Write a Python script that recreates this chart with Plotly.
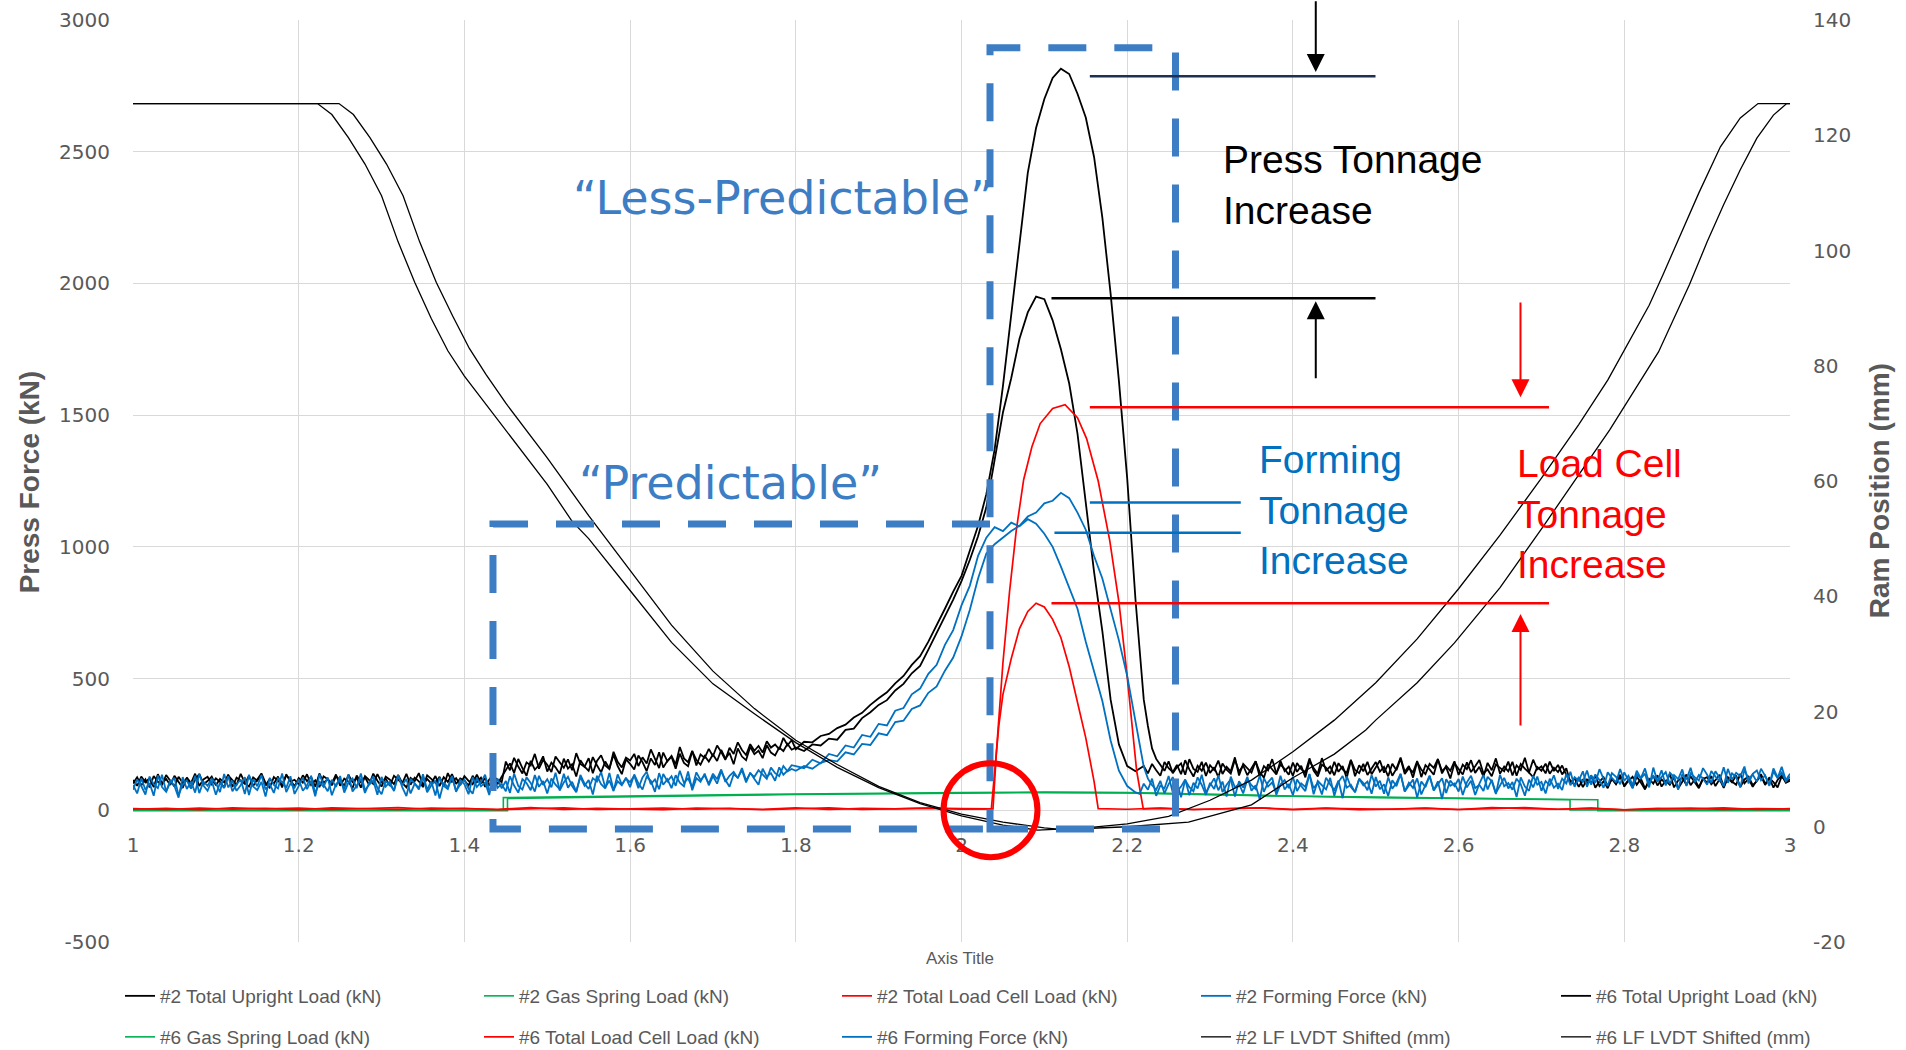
import plotly.graph_objects as go

# ---------------- data -----------------
# sample times (s) of the force channels
T_A = [round(1.0 + 0.005 * i, 3) for i in range(160)]    # 1.000 ... 1.795
T_B = [round(1.80 + 0.01 * i, 2) for i in range(42)]     # 1.80 ... 2.21
T_C = [round(2.215 + 0.005 * i, 3) for i in range(158)]  # 2.215 ... 3.000
TIME = T_A + T_B + T_C

forming_2 = [
    # 1.000 - 1.795
    96, 64, 121, 78, 103, 55, 132, 88, 70, 115, 92, 48, 126, 81, 109, 67, 138, 94, 74, 112,
    59, 104, 85, 129, 72, 98, 117, 62, 135, 90, 77, 108, 52, 123, 96, 83, 140, 69, 101, 86,
    118, 74, 95, 131, 63, 107, 89, 125, 57, 99, 114, 80, 136, 71, 93, 120, 66, 104, 128, 84,
    61, 110, 97, 76, 133, 88, 54, 119, 102, 79, 127, 68, 94, 113, 45, 105, 87, 130, 73, 98,
    116, 82, 63, 124, 91, 106, 58, 137, 85, 100, 72, 129, 94, 67, 118, 103, 76, 134, 89, 111,
    64, 121, 97, 80, 139, 86, 108, 71, 126, 93, 115, 60, 131, 99, 83, 142, 77, 110, 95, 124,
    88, 136, 102, 79, 128, 112, 70, 141, 97, 118, 84, 133, 105, 91, 147, 76, 122, 108, 139, 95,
    130, 101, 148, 115, 89, 137, 124, 152, 106, 143, 119, 97, 158, 128, 141, 112, 163, 135, 150, 171,
    # 1.80 - 2.21
    168, 160, 192, 178, 214, 205, 246, 238, 286, 279, 328, 322, 378, 388, 440, 462, 518, 552, 628, 684,
    778, 852, 966, 1035, 1075, 1060, 1092, 1078, 1105, 1088, 1050, 1000, 925, 845, 765, 640, 525, 415,
    265, 150, 92, 68,
    # 2.215 - 3.000
    62, 101, 78, 120, 55, 94, 83, 130, 67, 108, 49, 115, 88, 72, 125, 96, 58,
    104, 81, 133, 69, 97, 118, 52, 110, 86, 127, 74, 95, 41, 122, 90, 106, 65, 131, 79, 100,
    57, 117, 92, 73, 136, 84, 103, 60, 124, 98, 77, 113, 46, 129, 88, 70, 119, 95, 109, 63,
    126, 80, 99, 54, 114, 91, 137, 72, 105, 85, 121, 60, 96, 132, 76, 110, 43, 118, 93, 102,
    71, 128, 87, 112, 58, 100, 134, 79, 116, 66, 94, 123, 83, 107, 50, 125, 90, 74, 131, 97,
    108, 64, 120, 86, 101, 77, 139, 95, 126, 112, 148, 89, 133, 104, 156, 118, 92, 141, 127, 99,
    144, 115, 83, 137, 122, 159, 101, 130, 111, 152, 94, 143, 126, 78, 138, 117, 161, 106, 134, 120,
    97, 149, 128, 112, 163, 104, 140, 125, 88, 153, 119, 136, 108, 158, 131, 93, 147, 122, 165, 114,
    139]

forming_6 = [
    78, 117, 92, 60, 128, 99, 84, 135, 71, 106, 123, 57, 97, 114, 82, 131, 65, 109, 93, 120,
    103, 69, 138, 87, 112, 74, 95, 126, 58, 118, 91, 134, 79, 100, 66, 121, 107, 85, 129, 62,
    92, 124, 80, 111, 53, 136, 98, 72, 116, 89, 130, 67, 105, 121, 84, 140, 76, 97, 113, 59,
    127, 90, 108, 73, 132, 96, 119, 64, 101, 85, 137, 78, 110, 56, 124, 93, 81, 128, 70, 115,
    99, 61, 126, 88, 107, 135, 74, 97, 120, 83, 111, 66, 140, 92, 79, 125, 104, 71, 131, 96,
    118, 87, 143, 75, 106, 127, 92, 68, 134, 101, 81, 122, 109, 145, 86, 113, 73, 136, 98, 120,
    107, 131, 84, 125, 146, 99, 117, 80, 138, 110, 129, 93, 150, 104, 121, 87, 144, 115, 132, 101,
    139, 118, 155, 108, 131, 146, 122, 160, 113, 140, 127, 152, 135, 119, 162, 141, 130, 168, 148, 157,
    150, 168, 158, 180, 190, 186, 220, 212, 252, 248, 292, 285, 335, 340, 385, 398, 446, 470, 530, 580,
    660, 760, 880, 975, 1010, 1035, 1060, 1080, 1115, 1130, 1165, 1175, 1205, 1185, 1130, 1065, 965, 880,
    760, 645, 510, 330,
    250, 165, 120, 95, 78, 112, 64, 99, 126, 71, 90, 117, 57, 104, 83, 135, 68,
    93, 121, 76, 109, 52, 128, 87, 100, 64, 118, 95, 80, 132, 70, 106, 124, 59, 98, 115, 84,
    127, 73, 102, 89, 138, 61, 111, 94, 79, 123, 55, 107, 130, 86, 97, 68, 120, 103, 76, 134,
    90, 112, 63, 125, 82, 104, 139, 71, 96, 117, 48, 109, 88, 129, 75, 101, 122, 66, 113, 92,
    119, 58, 106, 131, 84, 97, 73, 127, 110, 62, 135, 91, 103, 78, 120, 99, 55, 116, 87, 128,
    74, 111, 95, 133, 81, 120, 102, 146, 89, 124, 108, 151, 97, 136, 115, 85, 144, 123, 106, 157,
    112, 131, 96, 150, 121, 139, 87, 162, 109, 127, 145, 100, 134, 118, 155, 92, 140, 126, 113, 160,
    135, 104, 148, 123, 91, 157, 117, 142, 129, 166, 102, 138, 151, 114, 132, 96, 159, 125, 144, 110,
    128]

upright_2 = [
    102, 125, 94, 118, 87, 130, 108, 97, 134, 112, 90, 127, 104, 121, 83, 116, 138, 99, 111, 128,
    95, 119, 106, 135, 89, 124, 113, 100, 131, 92, 117, 140, 103, 86, 126, 110, 98, 133, 115, 91,
    122, 105, 137, 96, 114, 88, 129, 118, 101, 136, 93, 120, 109, 84, 132, 107, 125, 97, 139, 112,
    90, 128, 116, 99, 134, 104, 87, 123, 111, 141, 95, 119, 102, 130, 92, 126, 108, 137, 100, 121,
    113, 94, 131, 106, 124, 89, 117, 136, 99, 127, 150, 178, 142, 195, 160, 131, 188, 154, 172, 205,
    147, 181, 163, 139, 196, 158, 175, 128, 190, 166, 150, 202, 171, 144, 185, 159, 211, 168, 137, 193,
    176, 155, 208, 183, 149, 197, 172, 220, 162, 188, 203, 158, 215, 180, 167, 224, 191, 173, 206, 185,
    212, 187, 229, 196, 218, 175, 235, 204, 190, 241, 213, 226, 198, 247, 219, 208, 238, 225, 252, 230,
    238, 225, 250, 246, 272, 268, 305, 310, 350, 372, 400, 418, 455, 480, 520, 548, 610, 672, 740, 800,
    870, 950, 1040, 1150, 1330, 1510, 1640, 1790, 1890, 1950, 1940, 1860, 1750, 1620, 1430, 1175, 905, 680,
    420, 250, 168, 148,
    158, 168, 140, 176, 152, 131, 183, 160, 145, 172, 137, 190, 155, 128, 169, 150, 181,
    142, 163, 126, 178, 154, 139, 192, 147, 170, 133, 161, 186, 144, 124, 175, 157, 136, 188, 149, 166,
    131, 179, 156, 143, 197, 151, 128, 173, 162, 138, 184, 146, 168, 122, 190, 153, 141, 176, 134, 159,
    183, 147, 165, 129, 177, 152, 196, 138, 160, 144, 187, 126, 171, 155, 135, 193, 149, 163, 121, 178,
    158, 136, 182, 145, 167, 191, 140, 155, 129, 174, 161, 148, 185, 132, 170, 153, 199, 143, 126, 164,
    150, 177, 139, 162, 145, 170, 134, 112, 96, 124, 88, 117, 103, 131, 92, 110, 84, 121, 99, 127,
    94, 115, 86, 128, 105, 79, 119, 101, 133, 90, 112, 97, 125, 83, 108, 136, 95, 116, 88, 122,
    104, 130, 92, 118, 85, 126, 109, 97, 138, 102, 120, 89, 114, 131, 96, 123, 107, 87, 129, 111,
    118]

upright_6 = [
    115, 93, 128, 106, 122, 88, 137, 101, 119, 96, 131, 110, 85, 124, 103, 139, 92, 117, 127, 99,
    121, 108, 86, 132, 114, 97, 138, 105, 90, 125, 112, 134, 94, 119, 101, 128, 87, 136, 109, 116,
    98, 133, 111, 126, 89, 140, 104, 118, 95, 129, 115, 92, 135, 107, 123, 86, 130, 113, 100, 137,
    106, 120, 93, 131, 117, 102, 138, 97, 124, 110, 88, 133, 119, 104, 127, 91, 141, 108, 122, 96,
    130, 112, 99, 135, 103, 121, 94, 128, 116, 107, 185, 152, 199, 166, 140, 182, 170, 214, 158, 191,
    173, 145, 204, 180, 161, 193, 152, 217, 176, 165, 198, 141, 187, 209, 170, 156, 222, 184, 163, 200,
    189, 214, 168, 201, 178, 231, 193, 160, 219, 186, 206, 174, 240, 197, 183, 226, 170, 212, 199, 233,
    205, 246, 221, 192, 237, 214, 258, 229, 210, 251, 226, 244, 219, 262, 238, 250, 231, 275, 247, 266,
    232, 260, 258, 282, 290, 312, 325, 352, 370, 400, 425, 448, 482, 510, 552, 585, 640, 700, 765, 830,
    890, 985, 1080, 1200, 1370, 1610, 1880, 2150, 2420, 2590, 2700, 2780, 2815, 2795, 2720, 2630, 2480, 2250,
    1960, 1630, 1260, 800,
    600, 420, 320, 235, 195, 172, 150, 186, 141, 163, 178, 135, 194, 157, 146, 184, 130,
    171, 153, 189, 138, 165, 148, 201, 132, 176, 159, 143, 186, 127, 168, 152, 194, 140, 173, 157, 135,
    181, 146, 169, 125, 187, 160, 139, 198, 151, 166, 133, 179, 155, 142, 192, 129, 171, 148, 184, 137,
    162, 189, 143, 175, 131, 158, 200, 146, 168, 124, 183, 154, 137, 176, 161, 195, 140, 169, 150, 186,
    134, 173, 156, 190, 142, 165, 128, 180, 152, 197, 139, 166, 148, 184, 131, 176, 158, 143, 192, 155,
    167, 140, 185, 149, 172, 136, 160, 104, 121, 89, 115, 98, 132, 86, 109, 125, 93, 118, 101, 135,
    90, 112, 127, 97, 120, 83, 108, 131, 94, 117, 102, 138, 87, 113, 124, 96, 129, 105, 84, 119,
    126, 99, 114, 135, 91, 121, 106, 132, 88, 117, 128, 95, 110, 137, 100, 123, 86, 115, 133, 104,
    112]

loadcell_2_t = [1.00, 1.04, 1.08, 1.12, 1.16, 1.20, 1.24, 1.28, 1.32, 1.36, 1.40, 1.44, 1.48,
                1.52, 1.56, 1.60, 1.64, 1.68, 1.72, 1.76, 1.80, 1.84, 1.88, 1.92, 1.96, 2.00,
                2.036, 2.040, 2.045, 2.05, 2.06, 2.07, 2.08, 2.09, 2.10, 2.11, 2.12, 2.13, 2.14,
                2.15, 2.16, 2.165,
                2.20, 2.24, 2.28, 2.32, 2.36, 2.40, 2.44, 2.48, 2.52, 2.56, 2.60, 2.64, 2.68,
                2.72, 2.76, 2.80, 2.84, 2.88, 2.92, 2.96, 3.00]
loadcell_2 = [6, 3, 8, 4, 7, 2, 9, 5, 3, 8, 6, 4, 10, 3, 7, 5, 2, 8, 6, 4, 9, 3, 7, 5, 8, 4,
              5, 150, 320, 440, 575, 690, 755, 786, 772, 725, 655, 545, 415, 275, 110, 6,
              4, 8, 3, 6, 9, 2, 7, 5, 4, 8, 3, 6, 10, 4, 7, 2, 5, 8, 3, 6, 5]

loadcell_6_t = [1.00, 1.04, 1.08, 1.12, 1.16, 1.20, 1.24, 1.28, 1.32, 1.36, 1.40, 1.44, 1.48,
                1.52, 1.56, 1.60, 1.64, 1.68, 1.72, 1.76, 1.80, 1.84, 1.88, 1.92, 1.96, 2.00,
                2.038, 2.042, 2.05, 2.058, 2.066, 2.075, 2.085, 2.095, 2.11, 2.125, 2.14, 2.151,
                2.165, 2.179, 2.19, 2.199, 2.205, 2.2114, 2.2194,
                2.24, 2.28, 2.32, 2.36, 2.40, 2.44, 2.48, 2.52, 2.56, 2.60, 2.64, 2.68, 2.72,
                2.76, 2.80, 2.84, 2.88, 2.92, 2.96, 3.00]
loadcell_6 = [4, 7, 2, 9, 5, 8, 3, 6, 10, 4, 7, 2, 5, 9, 3, 6, 8, 4, 7, 2, 6, 9, 3, 5, 8, 6,
              5, 215, 560, 830, 1060, 1255, 1380, 1468, 1525, 1540, 1490, 1411, 1250, 1023,
              790, 538, 360, 150, 5,
              7, 3, 6, 9, 4, 8, 2, 5, 7, 3, 10, 6, 4, 8, 2, 7, 5, 9, 3, 6]

gas_2_t = [1.00, 1.447, 1.447, 1.60, 1.80, 2.00, 2.10, 2.20, 2.30, 2.40, 2.50, 2.60, 2.7345, 2.7345, 3.00]
gas_2 = [0, 0, 48, 55, 62, 67, 69, 67, 60, 54, 50, 45, 40, 1, 1]
gas_6_t = [1.00, 1.452, 1.452, 1.60, 1.80, 2.00, 2.10, 2.20, 2.30, 2.40, 2.50, 2.60, 2.70, 2.768, 2.768, 3.00]
gas_6 = [-2, -2, 45, 52, 60, 65, 67, 66, 59, 53, 48, 44, 41, 40, -2, -2]

lvdt_2_t = [1.00, 1.2227, 1.24, 1.26, 1.28, 1.30, 1.32, 1.34, 1.36, 1.38, 1.40, 1.45, 1.50, 1.53,
            1.55, 1.60, 1.65, 1.70, 1.75, 1.80, 1.85, 1.90, 1.95, 2.00, 2.05, 2.092, 2.15, 2.20,
            2.25, 2.30, 2.35, 2.40, 2.45, 2.50, 2.55, 2.60, 2.65, 2.70, 2.745, 2.78, 2.809, 2.83,
            2.8467, 2.87, 2.89, 2.916, 2.94, 2.9614, 3.00]
lvdt_2 = [125.5, 125.5, 123.6, 119.6, 115.0, 109.5, 101.5, 94.5, 88.2, 82.6, 78.2, 68.8, 59.4, 53.0,
          50.0, 41.0, 32.0, 24.8, 19.6, 14.6, 10.3, 6.8, 4.0, 1.9, 0.3, -0.6, -0.2, 0.5,
          1.8, 4.6, 8.1, 13.0, 18.5, 25.0, 32.6, 41.3, 50.6, 60.5, 69.8, 77.5, 84.9, 90.5,
          95.8, 103.5, 110.0, 118.0, 123.0, 125.5, 125.5]

lvdt_6_t = [1.00, 1.2486, 1.266, 1.286, 1.306, 1.326, 1.346, 1.366, 1.386, 1.406, 1.426, 1.45,
            1.50, 1.55, 1.60, 1.65, 1.70, 1.75, 1.80, 1.85, 1.90, 1.95, 2.00, 2.05, 2.10, 2.122,
            2.15, 2.20, 2.274, 2.30, 2.35, 2.381, 2.40, 2.45, 2.488, 2.50, 2.55, 2.595, 2.65,
            2.702, 2.75, 2.7826, 2.8413, 2.8787, 2.90, 2.92, 2.94, 2.96, 2.98, 2.996, 3.00]
lvdt_6 = [125.5, 125.5, 123.6, 119.6, 115.0, 109.5, 101.5, 94.5, 88.6, 83.0, 78.5, 73.5,
          64.0, 54.0, 44.5, 35.0, 27.0, 20.5, 15.0, 10.8, 7.0, 4.2, 2.2, 0.8, -0.2, -0.5,
          -0.3, 0.0, 0.8, 1.8, 3.8, 6.7, 8.5, 12.6, 16.8, 18.5, 25.0, 31.9, 41.5,
          52.1, 62.0, 68.9, 82.4, 94.1, 101.5, 108.0, 114.0, 119.5, 123.5, 125.5, 125.5]

# tick labels
force_ticks = [-500, 0, 500, 1000, 1500, 2000, 2500, 3000]
force_tick_text = ["-500", "0", "500", "1000", "1500", "2000", "2500", "3000"]
ram_ticks = [-20, 0, 20, 40, 60, 80, 100, 120, 140]
ram_tick_text = ["-20", "0", "20", "40", "60", "80", "100", "120", "140"]
time_ticks = [1, 1.2, 1.4, 1.6, 1.8, 2, 2.2, 2.4, 2.6, 2.8, 3]
time_tick_text = ["1", "1.2", "1.4", "1.6", "1.8", "2", "2.2", "2.4", "2.6", "2.8", "3"]

# ---------------- styles -----------------
BLACK = "#000000"
GREEN = "#00B050"
RED = "#FF0000"
BLUE = "#0070C0"
BOXBLUE = "#3C7DC4"
GRID = "#D9D9D9"
TXT = "#595959"
NARROW = "Liberation Sans Narrow, Arial Narrow, Liberation Sans, sans-serif"
TICKF = dict(family="DejaVu Sans, Verdana, sans-serif", size=20, color=TXT)

fig = go.Figure()

# (legend slot, name, x, y, colour, width, axis); slot = legend position, list order = drawing order
series = [
    (0, "#2 Total Upright Load (kN)", TIME, upright_2, BLACK, 1.8, "y"),
    (4, "#6 Total Upright Load (kN)", TIME, upright_6, BLACK, 1.8, "y"),
    (1, "#2 Gas Spring Load (kN)", gas_2_t, gas_2, GREEN, 1.6, "y"),
    (5, "#6 Gas Spring Load (kN)", gas_6_t, gas_6, GREEN, 1.6, "y"),
    (2, "#2 Total Load Cell Load (kN)", loadcell_2_t, loadcell_2, RED, 1.7, "y"),
    (6, "#6 Total Load Cell Load (kN)", loadcell_6_t, loadcell_6, RED, 1.7, "y"),
    (3, "#2 Forming Force (kN)", TIME, forming_2, BLUE, 1.8, "y"),
    (7, "#6 Forming Force (kN)", TIME, forming_6, BLUE, 1.8, "y"),
    (8, "#2 LF LVDT Shifted (mm)", lvdt_2_t, lvdt_2, BLACK, 1.3, "y2"),
    (9, "#6 LF LVDT Shifted (mm)", lvdt_6_t, lvdt_6, BLACK, 1.3, "y2"),
]

legend_cols = [120, 479, 837, 1196, 1556]
legend_rows = [996, 1037]
W, H = 1906, 1050
layout_legends = {}
for slot, name, xs, ys, col, lw, ax in series:
    lname = "legend" if slot == 0 else f"legend{slot+1}"
    fig.add_trace(go.Scatter(x=xs, y=ys, mode="lines", name=name, yaxis=ax,
                             line=dict(color=col, width=lw), legend=lname))
    r, c = divmod(slot, 5)
    layout_legends[lname] = dict(
        x=legend_cols[c] / W, y=1 - legend_rows[r] / H, xref="container", yref="container",
        xanchor="left", yanchor="middle", bgcolor="rgba(0,0,0,0)", borderwidth=0,
        font=dict(family=NARROW, size=19, color=TXT), itemwidth=30)

# ---------------- annotation geometry (data coordinates) ----------------
shapes = []
box_line = dict(color=BOXBLUE, width=7, dash="38px,28px")
shapes.append(dict(type="rect", xref="x", yref="y", x0=2.0344, x1=2.2583, y0=-71, y1=2895,
                   line=box_line, layer="above"))
shapes.append(dict(type="path", xref="x", yref="y",
                   path="M 2.0344,1087 L 1.4345,1087 L 1.4345,-71 L 2.0344,-71",
                   line=box_line, layer="above"))
shapes.append(dict(type="circle", xref="x", yref="y", x0=1.9783, x1=2.0917, y0=-178, y1=179,
                   line=dict(color=RED, width=6), layer="above"))
hlines = [
    (2.1549, 2.4997, 2786, "#1F3050"),
    (2.1086, 2.4997, 1944, BLACK),
    (2.1549, 2.7091, 1530, RED),
    (2.1086, 2.7091, 786, RED),
    (2.1549, 2.3371, 1168, BLUE),
    (2.1122, 2.3371, 1054, BLUE),
]
for x0, x1, yv, col in hlines:
    shapes.append(dict(type="line", xref="x", yref="y", x0=x0, x1=x1, y0=yv, y1=yv,
                       line=dict(color=col, width=2.5), layer="above"))

annotations = []
arrows = [
    (2.4276, 2803, 3077, BLACK),
    (2.4276, 1932, 1634, BLACK),
    (2.6747, 1568, 1933, RED),
    (2.6747, 745, 316, RED),
]
for xa, ytip, ytail, col in arrows:
    annotations.append(dict(x=xa, y=ytip, ax=xa, ay=ytail, xref="x", yref="y",
                            axref="x", ayref="y", text="", showarrow=True, arrowhead=2,
                            arrowsize=1.8, arrowwidth=2, arrowcolor=col, standoff=0))

BIG = "Liberation Sans, Arial, sans-serif"
annotations += [
    dict(x=2.3137, y=2374, xref="x", yref="y", text="Press Tonnage<br>Increase", showarrow=False,
         xanchor="left", yanchor="middle", align="left", font=dict(family=BIG, size=39, color="#000000")),
    dict(x=2.3567, y=1140, xref="x", yref="y", text="Forming<br>Tonnage<br>Increase", showarrow=False,
         xanchor="left", yanchor="middle", align="left", font=dict(family=BIG, size=39, color=BLUE)),
    dict(x=2.6678, y=1125, xref="x", yref="y", text="Load Cell<br>Tonnage<br>Increase", showarrow=False,
         xanchor="left", yanchor="middle", align="left", font=dict(family=BIG, size=39, color=RED)),
    dict(x=1.7851, y=2325, xref="x", yref="y", text="\u201cLess-Predictable\u201d", showarrow=False,
         xanchor="center", yanchor="middle", font=dict(family="DejaVu Sans, sans-serif", size=46, color=BOXBLUE)),
    dict(x=1.7213, y=1244, xref="x", yref="y", text="\u201cPredictable\u201d", showarrow=False,
         xanchor="center", yanchor="middle", font=dict(family="DejaVu Sans, sans-serif", size=46, color=BOXBLUE)),
    dict(x=-0.0625, y=0.499, xref="paper", yref="paper", text="<b>Press Force (kN)</b>", showarrow=False,
         textangle=-90, xanchor="center", yanchor="middle", font=dict(family=NARROW, size=28, color=TXT)),
    dict(x=1.0537, y=0.490, xref="paper", yref="paper", text="<b>Ram Position (mm)</b>", showarrow=False,
         textangle=-90, xanchor="center", yanchor="middle", font=dict(family=NARROW, size=28, color=TXT)),
    dict(x=0.4991, y=-0.0174, xref="paper", yref="paper", text="Axis Title", showarrow=False,
         xanchor="center", yanchor="middle", font=dict(family=NARROW, size=17, color=TXT)),
]

fig.update_layout(
    width=W, height=H, autosize=False,
    margin=dict(l=133, r=116, t=20, b=108, pad=0, autoexpand=False),
    paper_bgcolor="white", plot_bgcolor="white",
    showlegend=True,
    xaxis=dict(range=[1, 3], tickmode="array", tickvals=time_ticks, ticktext=time_tick_text,
               showgrid=True, gridcolor=GRID, gridwidth=1,
               zeroline=False, showline=False, anchor="free", position=1 / 7,
               ticks="", ticklabelstandoff=21, tickfont=TICKF, automargin=False),
    yaxis=dict(range=[-500, 3000], tickmode="array", tickvals=force_ticks, ticktext=force_tick_text,
               showgrid=True, gridcolor=GRID, gridwidth=1,
               zeroline=True, zerolinecolor=GRID, zerolinewidth=1, showline=False,
               ticks="", ticklabelstandoff=22, tickfont=TICKF, automargin=False),
    yaxis2=dict(range=[-20, 140], tickmode="array", tickvals=ram_ticks, ticktext=ram_tick_text,
                overlaying="y", side="right", showgrid=False,
                zeroline=False, showline=False, ticks="", ticklabelstandoff=22, tickfont=TICKF,
                automargin=False),
    shapes=shapes,
    annotations=annotations,
    **layout_legends,
)

fig.write_html("out.html")
